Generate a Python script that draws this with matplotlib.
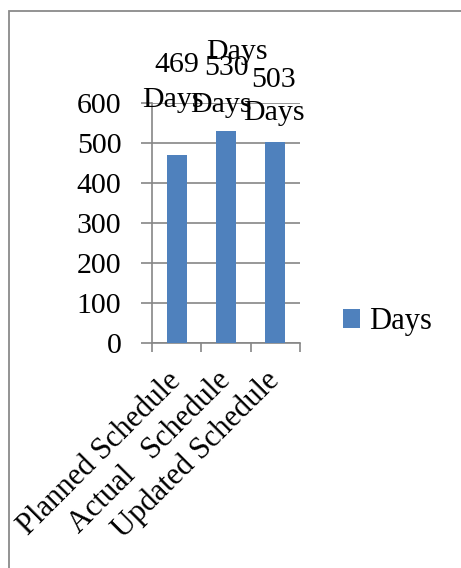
import matplotlib.pyplot as plt
from matplotlib.patches import Rectangle

categories = ['Planned Schedule', 'Actual   Schedule', 'Updated Schedule']
days = [469, 530, 503]
series_name = 'Days'
yticks = [0, 100, 200, 300, 400, 500, 600]

# data label lines per bar ('v' = value, 'n' = series name), drawn as in the
# reference where Excel piled the labels on top of each other
label_lines = [['v', 'n'], ['n', 'v', 'n'], ['v', 'n']]
# baseline offsets (points) of each line from the top of its bar
label_offsets = [[(0.4, 60), (-3, 35)],
                 [(8, 52), (0, 40), (-3.6, 13.7)],
                 [(-1, 39.5), (-0.7, 15.7)]]

bar_color = '#4F81BD'
grid_color = '#868686'
fs = 21.5

plt.rcParams['font.family'] = ['Liberation Serif', 'DejaVu Serif']

fig = plt.figure(figsize=(4.61, 5.68), dpi=100)
fig.patch.set_facecolor('white')

# gray chart-area frame, cut off at right and bottom like the reference
fig.patches.append(Rectangle((9 / 461, -0.1), 1.2, 1 - 11 / 568 + 0.1,
                             transform=fig.transFigure, fill=False,
                             edgecolor='#8a8a8a', linewidth=1.3))

ax = fig.add_axes([152 / 461, 1 - 343 / 568, 148 / 461, 240 / 568])

x = list(range(len(categories)))
bars = ax.bar(x, days, width=0.41, color=bar_color, label=series_name, zorder=3)

for xi, val, lines, offs in zip(x, days, label_lines, label_offsets):
    for kind, off in zip(lines, offs):
        txt = str(val) if kind == 'v' else series_name
        ax.annotate(txt, (xi, val), xytext=off, textcoords='offset points',
                    ha='center', va='baseline', fontsize=fs, zorder=4,
                    annotation_clip=False)

ax.set_xlim(-0.5, 2.5)
ax.set_ylim(0, 600)
ax.set_yticks(yticks)
ax.yaxis.grid(True, color=grid_color, linewidth=1.2, zorder=0)

ax.set_xticks([-0.5, 0.5, 1.5, 2.5])
ax.set_xticklabels([])
ax.set_xticks(x, minor=True)
ax.set_xticklabels(categories, minor=True, rotation=45, ha='right',
                   va='center', rotation_mode='anchor', fontsize=22)
ax.tick_params(axis='x', which='major', length=6.5, width=1.2,
               color=grid_color, direction='out')
ax.tick_params(axis='x', which='minor', length=0, pad=24)
ax.tick_params(axis='y', length=8, width=1.2, color=grid_color,
               labelsize=fs, pad=14)

for side in ['top', 'right']:
    ax.spines[side].set_visible(False)
for side in ['left', 'bottom']:
    ax.spines[side].set_color(grid_color)
    ax.spines[side].set_linewidth(1.2)

leg = fig.legend(handles=[bars], labels=[series_name], loc='center left',
                 bbox_to_anchor=(343 / 461, 1 - 322 / 568), frameon=False,
                 fontsize=22, handlelength=0.55, handleheight=0.55,
                 handletextpad=0.3, borderaxespad=0, borderpad=0)

fig.savefig('out.png', dpi=100)
